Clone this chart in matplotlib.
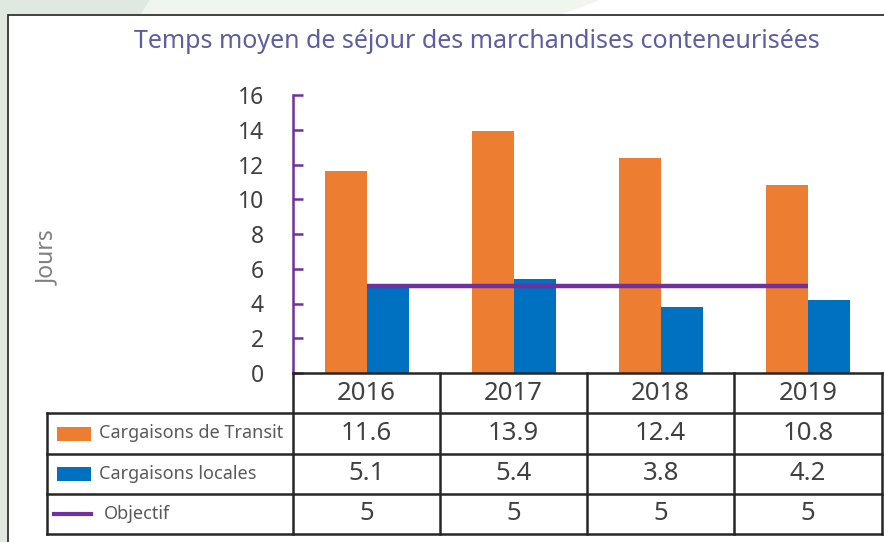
import matplotlib
matplotlib.use("Agg")
import matplotlib.pyplot as plt
from matplotlib.patches import Rectangle, Polygon

# ---- data ----
years = ["2016", "2017", "2018", "2019"]
transit = [11.6, 13.9, 12.4, 10.8]
locales = [5.1, 5.4, 3.8, 4.2]
objectif = [5, 5, 5, 5]
series_labels = ["Cargaisons de Transit", "Cargaisons locales", "Objectif"]
title = "Temps moyen de séjour des marchandises conteneurisées"
ylabel = "Jours"
yticks = [0, 2, 4, 6, 8, 10, 12, 14, 16]

ORANGE = "#ED7D31"
BLUE = "#0070C0"
PURPLE = "#7030A0"
TITLE_C = "#5b5ea6"
TXT = "#404040"

plt.rcParams['font.family'] = ['Noto Sans', 'DejaVu Sans']

W, H = 884, 542
fig = plt.figure(figsize=(W / 100, H / 100), dpi=100)
fig.patch.set_facecolor("white")

# ---- background (pixel coordinates) ----
bg = fig.add_axes([0, 0, 1, 1], zorder=0)
bg.set_xlim(0, W); bg.set_ylim(H, 0); bg.axis("off")
bg.add_patch(Rectangle((0, 0), W, H, facecolor="#ffffff", edgecolor="none"))
bg.add_patch(Polygon([(0, 0), (600, 0), (560, 15), (8, 15), (8, H), (0, H)],
                     closed=True, facecolor="#f0f6ee", edgecolor="none"))
bg.add_patch(Polygon([(0, 0), (150, 0), (140, 15), (8, 15), (8, H), (0, H)],
                     closed=True, facecolor="#dfe9df", edgecolor="none"))
bg.add_patch(Rectangle((8, 15), W + 20 - 8, H + 20 - 15, facecolor="white",
                       edgecolor="#333333", linewidth=1.3))

# ---- chart axes ----
def px(x0, y0, x1, y1):
    return [x0 / W, 1 - y1 / H, (x1 - x0) / W, (y1 - y0) / H]

ax = fig.add_axes(px(293, 95, 882, 373), zorder=1)
ax.patch.set_alpha(0)
xs = list(range(len(years)))
bw = 0.286
ax.bar([x - bw / 2 for x in xs], transit, width=bw, color=ORANGE, zorder=2)
ax.bar([x + bw / 2 for x in xs], locales, width=bw, color=BLUE, zorder=2)
ax.plot(xs, objectif, color=PURPLE, linewidth=3.2, zorder=3, solid_capstyle="butt")
ax.set_xlim(-0.5, len(years) - 0.5)
ax.set_ylim(0, 16)
ax.set_yticks(yticks)
ax.set_yticklabels([str(t) for t in yticks], fontsize=16.5, color=TXT)
ax.tick_params(axis="y", direction="in", length=7, width=1.8, color=PURPLE, pad=21)
ax.set_xticks([])
for s in ["top", "right", "bottom"]:
    ax.spines[s].set_visible(False)
ax.spines["left"].set_color(PURPLE)
ax.spines["left"].set_linewidth(1.8)

# ---- overlay: title, ylabel, table ----
ov = fig.add_axes([0, 0, 1, 1], zorder=2)
ov.set_xlim(0, W); ov.set_ylim(H, 0); ov.axis("off")
ov.text(477, 42, title, fontsize=18, color=TITLE_C, ha="center", va="center")
ov.text(48, 258, ylabel, fontsize=16.5, color="#7f7f7f", rotation=90,
        ha="center", va="center")

col_x = [293, 440, 587, 734, 882]
row_y = [373, 413, 454, 494, 534]
left_x = 47
lc = "#262626"
lw = 1.8
# horizontal lines
ov.plot([col_x[0], col_x[-1]], [row_y[0], row_y[0]], color=lc, lw=lw)
for y in row_y[1:]:
    ov.plot([left_x, col_x[-1]], [y, y], color=lc, lw=lw)
# vertical lines
for x in col_x:
    ov.plot([x, x], [row_y[0], row_y[-1]], color=lc, lw=lw)
ov.plot([left_x, left_x], [row_y[1], row_y[-1]], color=lc, lw=lw)

# header
for i, yr in enumerate(years):
    cx = (col_x[i] + col_x[i + 1]) / 2
    ov.text(cx, (row_y[0] + row_y[1]) / 2, yr, fontsize=18.5, color=TXT,
            ha="center", va="center")

rows = [transit, locales, objectif]
for r, vals in enumerate(rows):
    cy = (row_y[r + 1] + row_y[r + 2]) / 2
    for i, v in enumerate(vals):
        cx = (col_x[i] + col_x[i + 1]) / 2
        ov.text(cx, cy, f"{v:g}", fontsize=18.5, color=TXT, ha="center", va="center")

# legend keys in table
cy0 = (row_y[1] + row_y[2]) / 2
cy1 = (row_y[2] + row_y[3]) / 2
cy2 = (row_y[3] + row_y[4]) / 2
ov.add_patch(Rectangle((57, cy0 - 7), 34, 14, facecolor=ORANGE, edgecolor="none"))
ov.add_patch(Rectangle((57, cy1 - 7), 34, 14, facecolor=BLUE, edgecolor="none"))
ov.plot([54, 91], [cy2, cy2], color=PURPLE, lw=3)
ov.text(99, cy0, series_labels[0], fontsize=13, color="#595959", ha="left", va="center")
ov.text(99, cy1, series_labels[1], fontsize=13, color="#595959", ha="left", va="center")
ov.text(104, cy2, series_labels[2], fontsize=13, color="#595959", ha="left", va="center")

fig.savefig("out.png", dpi=100)
